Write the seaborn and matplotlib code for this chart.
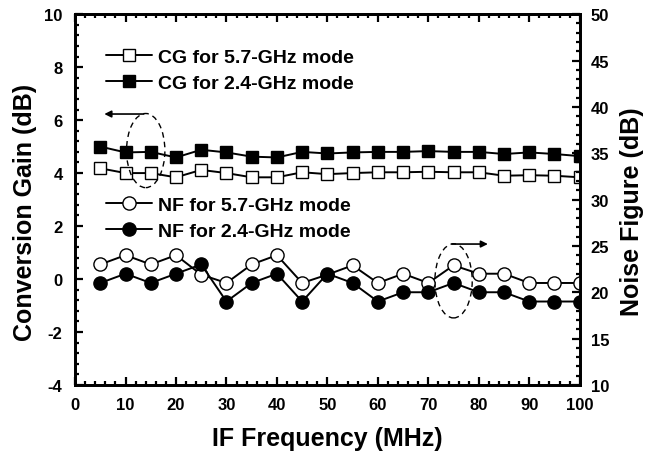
import matplotlib
matplotlib.use("Agg")

import matplotlib.pyplot as plt
import numpy as np
import pandas as pd
import seaborn as sns
from matplotlib.patches import Ellipse
from matplotlib.ticker import MultipleLocator


freq = [5, 10, 15, 20, 25, 30, 35, 40, 45, 50, 55, 60, 65, 70, 75, 80, 85, 90, 95, 100]

cg_57 = [4.18, 4.0, 4.0, 3.84, 4.12, 4.0, 3.84, 3.84, 4.03, 3.96,
         4.0, 4.03, 4.03, 4.05, 4.03, 4.03, 3.9, 3.92, 3.9, 3.84]
cg_24 = [5.0, 4.78, 4.8, 4.59, 4.88, 4.78, 4.62, 4.59, 4.8, 4.74,
         4.78, 4.8, 4.8, 4.83, 4.8, 4.8, 4.72, 4.78, 4.72, 4.64]

nf_57 = [23.0, 24.0, 23.0, 24.0, 21.9, 21.0, 23.0, 24.0, 21.0, 21.9,
         22.9, 21.0, 22.0, 21.0, 22.9, 22.0, 22.0, 21.0, 21.0, 21.0]
nf_24 = [21.0, 22.0, 21.0, 22.0, 23.0, 19.0, 21.0, 22.0, 19.0, 22.0,
         21.0, 19.0, 20.0, 20.0, 21.0, 20.0, 20.0, 19.0, 19.0, 19.0]

cg_labels = ["CG for 5.7-GHz mode", "CG for 2.4-GHz mode"]
nf_labels = ["NF for 5.7-GHz mode", "NF for 2.4-GHz mode"]


def draw_series(ax, y, marker, face, label, size):
    df = pd.DataFrame({"freq": freq, "val": y})
    sns.lineplot(
        data=df,
        x="freq",
        y="val",
        ax=ax,
        color="black",
        linewidth=1.4,
        marker=marker,
        markersize=size,
        markerfacecolor=face,
        markeredgecolor="black",
        markeredgewidth=1.0,
        label=label,
        legend=False,
    )


def main():
    sns.set_style("ticks")
    plt.rcParams["font.family"] = ["Liberation Sans", "DejaVu Sans"]
    plt.rcParams["font.weight"] = "bold"
    plt.rcParams["axes.labelweight"] = "bold"
    plt.rcParams["axes.unicode_minus"] = False
    for key in ("text.color", "axes.labelcolor", "xtick.color", "ytick.color",
                "xtick.labelcolor", "ytick.labelcolor"):
        plt.rcParams[key] = "black"

    fig = plt.figure(figsize=(6.47, 4.6), dpi=100)
    ax = fig.add_axes([0.116, 0.161, 0.78, 0.806])
    ax2 = ax.twinx()

    draw_series(ax, cg_57, "s", "white", cg_labels[0], 8.5)
    draw_series(ax, cg_24, "s", "black", cg_labels[1], 8.5)
    draw_series(ax2, nf_57, "o", "white", nf_labels[0], 9.5)
    draw_series(ax2, nf_24, "o", "black", nf_labels[1], 9.5)

    ax.set_xlim(0, 100)
    ax.set_ylim(-4, 10)
    ax2.set_ylim(10, 50)

    ax.xaxis.set_major_locator(MultipleLocator(10))
    ax.xaxis.set_minor_locator(MultipleLocator(2))
    ax.yaxis.set_major_locator(MultipleLocator(2))
    ax.yaxis.set_minor_locator(MultipleLocator(0.4))
    ax2.yaxis.set_major_locator(MultipleLocator(5))
    ax2.yaxis.set_minor_locator(MultipleLocator(1))

    for a in (ax, ax2):
        for side in a.spines.values():
            side.set_linewidth(2.0)
            side.set_color("black")
    ax.tick_params(axis="x", which="both", direction="in", top=True, bottom=True,
                   width=1.6, labelsize=12, pad=9)
    ax.tick_params(axis="y", which="both", direction="in", left=True, right=False,
                   width=1.6, labelsize=12, pad=9)
    ax2.tick_params(axis="y", which="both", direction="in", right=True, left=False,
                    width=1.6, labelsize=12, pad=8)
    for a in (ax, ax2):
        a.tick_params(which="major", length=6)
        a.tick_params(which="minor", length=3)

    ax.set_xlabel("IF Frequency (MHz)", fontsize=18, fontweight="bold")
    ax.set_ylabel("Conversion Gain (dB)", fontsize=18, fontweight="bold")
    ax2.set_ylabel("Noise Figure (dB)", fontsize=18, fontweight="bold")
    ax.xaxis.set_label_coords(0.5, -0.112)
    ax.yaxis.set_label_coords(-0.075, 0.469)
    ax2.yaxis.set_label_coords(1.08, 0.469)

    # legends, one per axis
    leg_font = dict(weight="bold", size=14)
    ax.legend(loc="upper left", bbox_to_anchor=(0.045, 0.93), frameon=False,
              prop=leg_font, handlelength=2.4, handletextpad=0.3,
              labelspacing=0.45, borderaxespad=0)
    ax2.legend(loc="upper left", bbox_to_anchor=(0.045, 0.53), frameon=False,
               prop=leg_font, handlelength=2.4, handletextpad=0.3,
               labelspacing=0.45, borderaxespad=0)

    # dashed ellipses with arrows pointing to their axes
    ax.add_patch(Ellipse((14, 4.85), 7.6, 2.8, fill=False, linestyle=(0, (4, 3)),
                         linewidth=1.0, edgecolor="black", zorder=5))
    ax.annotate("", xy=(5.8, 6.23), xytext=(13.6, 6.23),
                arrowprops=dict(arrowstyle="-|>", color="black", lw=1.2,
                                mutation_scale=10, shrinkA=0, shrinkB=0))
    ax.add_patch(Ellipse((75, -0.07), 7.4, 2.8, fill=False, linestyle=(0, (4, 3)),
                         linewidth=1.0, edgecolor="black", zorder=5))
    ax.annotate("", xy=(81.8, 1.32), xytext=(74.7, 1.32),
                arrowprops=dict(arrowstyle="-|>", color="black", lw=1.2,
                                mutation_scale=10, shrinkA=0, shrinkB=0))

    fig.savefig("out.png", dpi=100)
    plt.close(fig)


if __name__ == "__main__":
    main()
